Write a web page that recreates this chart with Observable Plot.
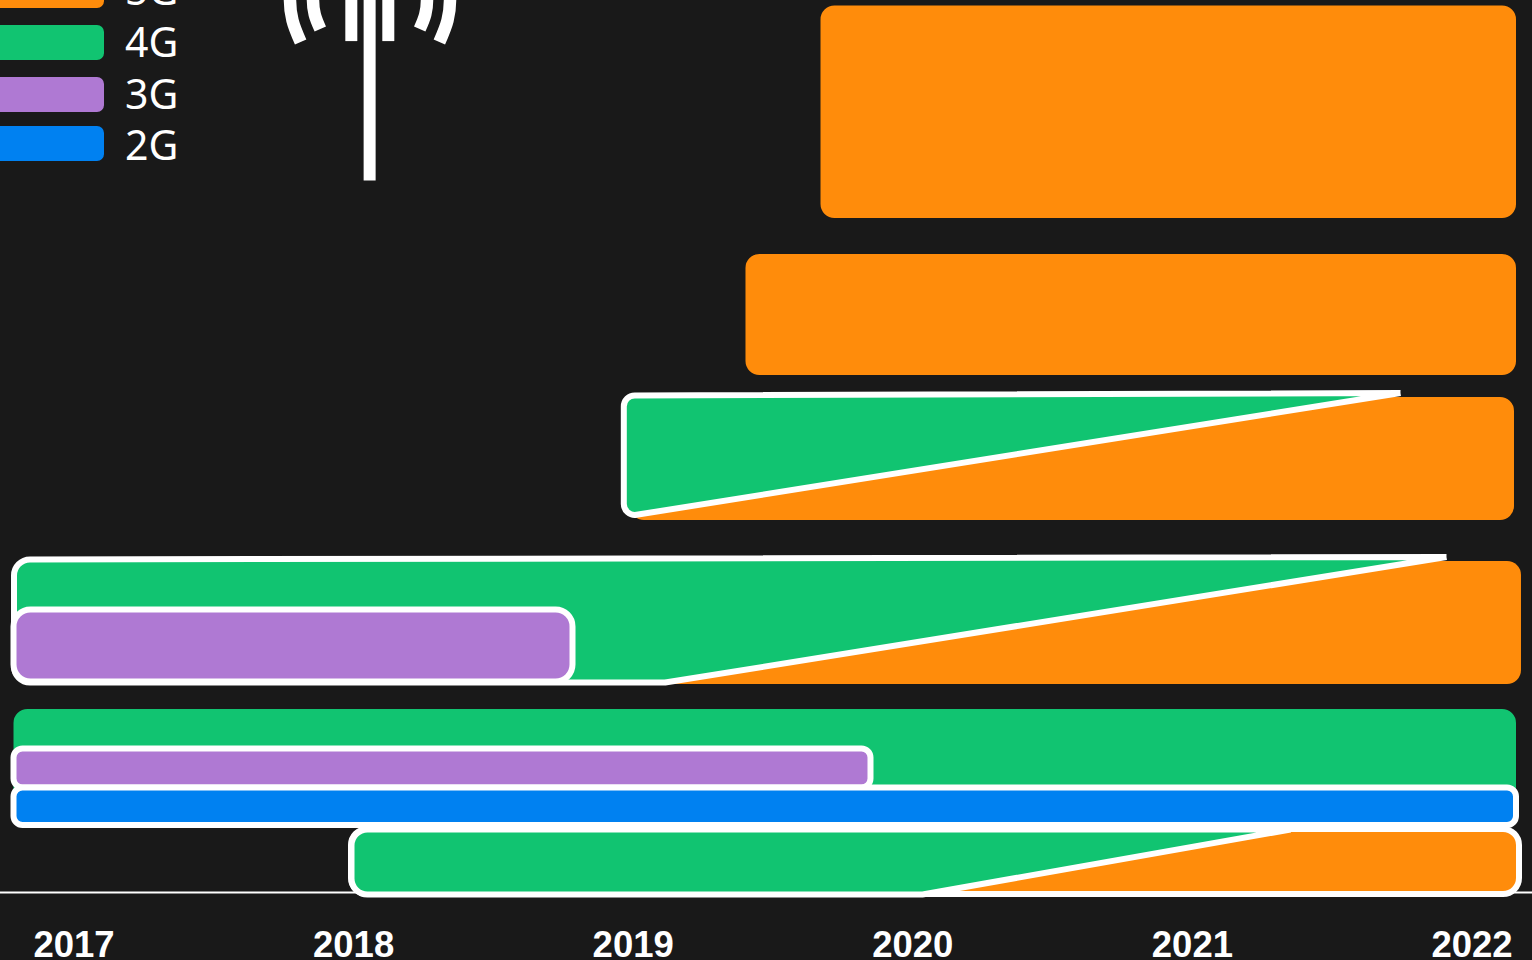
<!DOCTYPE html>
<html>
<head>
<meta charset="utf-8">
<style>
html,body{margin:0;padding:0;background:#191919;overflow:hidden}
svg{display:block}
</style>
<script src="https://cdn.jsdelivr.net/npm/d3@7"></script>
<script src="https://cdn.jsdelivr.net/npm/@observablehq/plot@0.6"></script>
</head>
<body>
<div id="chart"></div>
<script>
const years = [2017, 2018, 2019, 2020, 2021, 2022];
const generations = ["5G", "4G", "3G", "2G"];
const generationColors = ["#ff8c0b", "#11c471", "#af79d3", "#0081f1"];

// legend: swatch rows on the chart's own scales
const legendRows = [
  {gen: "5G", top: 923, bottom: 885, mid: 902},
  {gen: "4G", top: 868, bottom: 833, mid: 850},
  {gen: "3G", top: 816, bottom: 781, mid: 798},
  {gen: "2G", top: 767, bottom: 732, mid: 746.5}
];
const legendStart = 2016.6656, legendEnd = 2017.1091, legendTextAt = 2017.1824;

// plain bars (start year, end year, top, bottom)
const plainBars = [
  {gen: "5G", start: 2019.6717, end: 2022.1592, top: 887.5, bottom: 675},
  {gen: "5G", start: 2019.4034, end: 2022.1592, top: 639, bottom: 518},
  {gen: "5G", start: 2018.9903, end: 2022.1520, top: 496, bottom: 373},
  {gen: "5G", start: 2018.7221, end: 2022.1770, top: 332, bottom: 209},
  {gen: "4G", start: 2016.7854, end: 2022.1592, top: 184, bottom: 68}
];

// outlined bars
const outlinedLarge = [
  {gen: "3G", start: 2016.7854, end: 2018.7847, top: 283.5, bottom: 211.5}
];
const outlinedSmall = [
  {gen: "3G", start: 2016.7854, end: 2019.8505, top: 144.5, bottom: 105.5},
  {gen: "2G", start: 2016.7854, end: 2022.1592, top: 105.5, bottom: 68}
];
const outlinedBottom = [
  {gen: "5G", start: 2017.9925, end: 2022.1699, top: 64, bottom: -1}
];

// hand-over wedges: 4G giving way to 5G
const wedgeA = [
  {t: 2021.7443, v: 500.5}, {t: 2018.9664, v: 498}, {t: 2018.9664, v: 376.7}, {t: 2021.7443, v: 500.5}
];
const wedgeB = [
  {t: 2021.9088, v: 336.5}, {t: 2016.7854, v: 334}, {t: 2016.7854, v: 211}, {t: 2019.1155, v: 211}, {t: 2021.9088, v: 336.5}
];
const wedgeC = [
  {t: 2021.3509, v: 64}, {t: 2017.9925, v: 64}, {t: 2017.9925, v: -1}, {t: 2020.0347, v: -1}, {t: 2021.3509, v: 64}
];

// antenna icon
const mast = [{t: 2018.0573, v: 913}, {t: 2018.0573, v: 713}];
const sideBarLeft = [{t: 2017.9918, v: 913}, {t: 2017.9918, v: 852.4}];
const sideBarRight = [{t: 2018.1241, v: 913}, {t: 2018.1241, v: 852.4}];
const arcOuterLeft = [{t: 2017.8106, v: 851.5}, {t: 2017.7815, v: 873}, {t: 2017.7725, v: 893}, {t: 2017.7815, v: 913}];
const arcOuterRight = [{t: 2018.3067, v: 851.5}, {t: 2018.3358, v: 873}, {t: 2018.3448, v: 893}, {t: 2018.3358, v: 913}];
const arcInnerLeft = [{t: 2017.8809, v: 864.5}, {t: 2017.8610, v: 879}, {t: 2017.8548, v: 893}, {t: 2017.8610, v: 907}];
const arcInnerRight = [{t: 2018.2364, v: 864.5}, {t: 2018.2563, v: 879}, {t: 2018.2625, v: 893}, {t: 2018.2563, v: 907}];

// curve that rounds each interior vertex of an open path
function rounded(radius) {
  return (ctx) => {
    let pts = [];
    return {
      areaStart() {}, areaEnd() {},
      lineStart() { pts = []; },
      point(x, y) { pts.push([+x, +y]); },
      lineEnd() {
        ctx.moveTo(pts[0][0], pts[0][1]);
        for (let i = 1; i < pts.length - 1; i++) {
          ctx.arcTo(pts[i][0], pts[i][1], pts[i + 1][0], pts[i + 1][1], radius);
        }
        const last = pts[pts.length - 1];
        ctx.lineTo(last[0], last[1]);
      }
    };
  };
}

const bar = (data, r, extra = {}) => Plot.rect(data, {
  x1: "start", x2: "end", y1: "bottom", y2: "top", fill: "gen", r, ...extra
});
const outline = {stroke: "white", strokeWidth: 6};
const wedge = (data, r) => Plot.line(data, {
  x: "t", y: "v", fill: generationColors[1], stroke: "white", strokeWidth: 6,
  curve: rounded(r), strokeLinecap: "butt", strokeLinejoin: "miter", strokeMiterlimit: 10
});
const bit = (data, curve = "linear", strokeWidth = 12) => Plot.line(data, {
  x: "t", y: "v", stroke: "white", strokeWidth, curve, strokeLinecap: "butt"
});

const chart = Plot.plot({
  width: 1532,
  height: 960,
  marginTop: 0,
  marginLeft: 0,
  marginRight: 0,
  marginBottom: 67,
  style: {background: "#191919", color: "white", overflow: "hidden"},
  x: {domain: [2016.7371, 2022.2164]},
  y: {domain: [0, 893], axis: null},
  color: {type: "ordinal", domain: generations, range: generationColors},
  marks: [
    Plot.ruleY([1], {stroke: "white", strokeWidth: 2}),
    Plot.axisX(years, {
      anchor: "bottom", tickSize: 0, tickPadding: 37.8, tickFormat: "d", label: null,
      fontSize: 36.5, fontWeight: "bold", fontFamily: "Liberation Sans", fill: "white"
    }),
    Plot.rect(legendRows, {
      x1: () => legendStart, x2: () => legendEnd, y1: "bottom", y2: "top", fill: "gen", r: 7
    }),
    Plot.text(legendRows, {
      x: () => legendTextAt, y: "mid", text: "gen", textAnchor: "start",
      fontSize: 41, fontFamily: "Noto Sans", fill: "white"
    }),
    bit(mast), bit(sideBarLeft), bit(sideBarRight),
    bit(arcOuterLeft, "catmull-rom", 12.5), bit(arcOuterRight, "catmull-rom", 12.5),
    bit(arcInnerLeft, "catmull-rom", 12.5), bit(arcInnerRight, "catmull-rom", 12.5),
    bar(plainBars, 14),
    wedge(wedgeA, 11),
    wedge(wedgeB, 16),
    bar(outlinedLarge, 17, outline),
    bar(outlinedSmall, 9, outline),
    bar(outlinedBottom, 16, outline),
    wedge(wedgeC, 16)
  ]
});
document.getElementById("chart").append(chart);
</script>
</body>
</html>
